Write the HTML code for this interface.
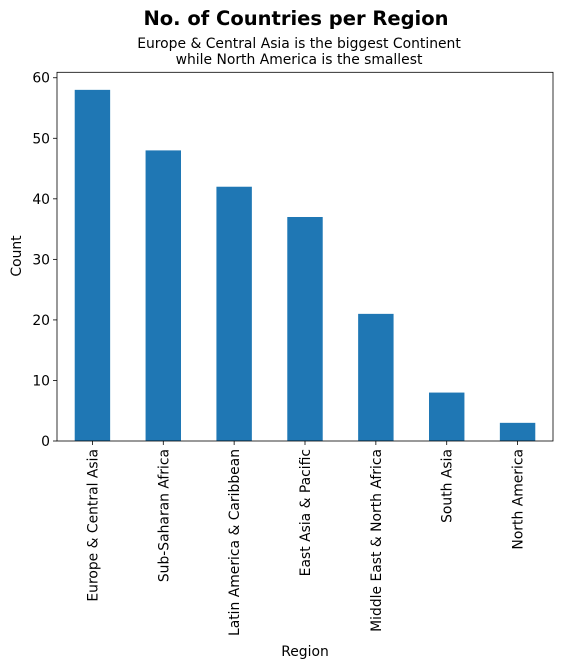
<!DOCTYPE html>
<html><head><meta charset="utf-8"><style>
body{margin:0;background:#fff;}
svg{display:block;font-family:"DejaVu Sans","Liberation Sans",sans-serif;}
</style></head><body>
<svg id="chart" width="562" height="668">
<text x="296" y="25" text-anchor="middle" font-size="19.5" font-weight="bold">No. of Countries per Region</text>
<text x="299" y="48" text-anchor="middle" font-size="13.9">Europe &amp; Central Asia is the biggest Continent</text>
<text x="299" y="64" text-anchor="middle" font-size="13.9">while North America is the smallest</text>
<text transform="translate(21,256) rotate(-90)" text-anchor="middle" font-size="13.9">Count</text>
<text x="305" y="656" text-anchor="middle" font-size="13.9">Region</text>
<g id="bars"></g><g id="axes"></g>
</svg>
<script>
const categories=["Europe & Central Asia","Sub-Saharan Africa","Latin America & Caribbean","East Asia & Pacific","Middle East & North Africa","South Asia","North America"];
const counts=[58,48,42,37,21,8,3];
const yTicks=[0,10,20,30,40,50,60];
const NS="http://www.w3.org/2000/svg";
const L=57,R=553,T=72.3,B=441;
const yMax=Math.max(...counts)*1.05;
const y=v=>B-(v/yMax)*(B-T);
const step=(R-L)/categories.length;
const xc=i=>L+step*(i+0.5);
function mk(tag,attrs,parent){const e=document.createElementNS(NS,tag);for(const k in attrs)e.setAttribute(k,attrs[k]);parent.appendChild(e);return e;}
const bars=document.getElementById('bars'),axes=document.getElementById('axes');
counts.forEach((v,i)=>{
 const r=mk('rect',{x:xc(i)-step/4,y:y(v),width:step/2,height:B-y(v),fill:'#1f77b4'},bars);
 
 
 mk('line',{x1:xc(i),x2:xc(i),y1:B,y2:B+4,stroke:'#000','stroke-width':0.8},axes);
 const t=mk('text',{transform:`translate(${xc(i)+5},${B+8}) rotate(-90)`,'text-anchor':'end','font-size':13.9},axes);
 t.textContent=categories[i];
 
 
});
yTicks.forEach(v=>{
 mk('line',{x1:L-4,x2:L,y1:y(v),y2:y(v),stroke:'#000','stroke-width':0.8},axes);
 const t=mk('text',{x:L-7,y:y(v)+5,'text-anchor':'end','font-size':13.9},axes);
 t.textContent=v;
 
 
});
const f=mk('rect',{x:L,y:T,width:R-L,height:B-T,fill:'none',stroke:'#000','stroke-width':0.8},axes);


</script>
</body></html>
